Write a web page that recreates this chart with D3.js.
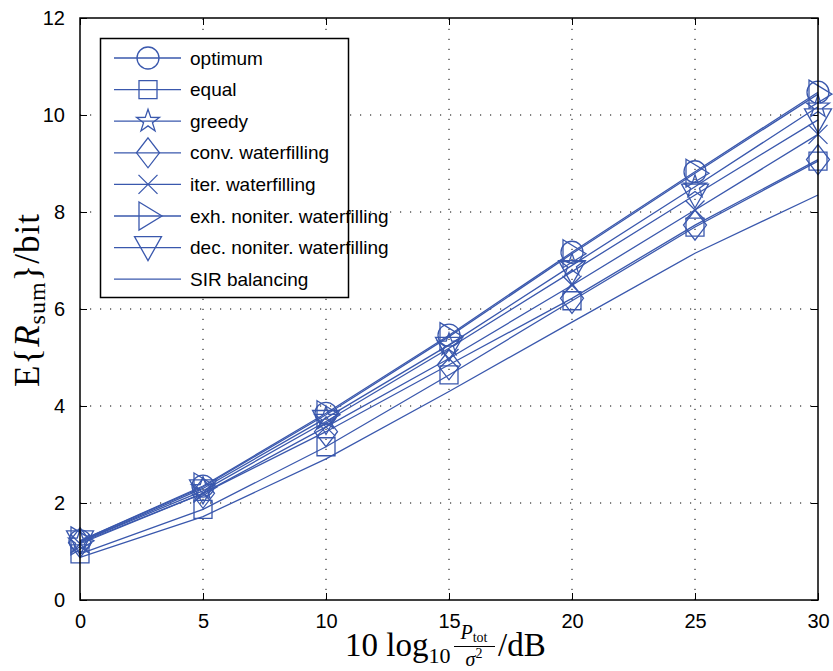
<!DOCTYPE html>
<html><head><meta charset="utf-8">
<script src="https://cdn.jsdelivr.net/npm/d3@7/dist/d3.min.js"></script>
<style>body{margin:0;background:#fff}svg{display:block}</style>
</head><body>
<svg id="chart" width="833" height="671"></svg>
<script>
const xValues = [0, 5, 10, 15, 20, 25, 30];
const optimum = [1.22, 2.35, 3.85, 5.46, 7.17, 8.83, 10.47];
const equalPow = [0.95, 1.87, 3.16, 4.64, 6.17, 7.69, 9.05];
const greedy = [1.20, 2.30, 3.75, 5.26, 6.90, 8.52, 10.17];
const convWF = [1.18, 2.20, 3.47, 4.85, 6.22, 7.73, 9.08];
const iterWF = [1.16, 2.20, 3.57, 4.98, 6.49, 8.04, 9.60];
const exhWF = [1.22, 2.33, 3.82, 5.43, 7.14, 8.80, 10.43];
const decWF = [1.20, 2.25, 3.68, 5.19, 6.77, 8.35, 9.90];
const sirBal = [0.88, 1.72, 2.91, 4.30, 5.73, 7.15, 8.35];
const seriesNames = ["optimum", "equal", "greedy", "conv. waterfilling", "iter. waterfilling", "exh. noniter. waterfilling", "dec. noniter. waterfilling", "SIR balancing"];
const seriesValues = [optimum, equalPow, greedy, convWF, iterWF, exhWF, decWF, sirBal];
const seriesMarkers = ["circle", "square", "star", "diamond", "x", "tright", "tdown", "none"];
const xTicks = [0, 5, 10, 15, 20, 25, 30];
const yTicks = [0, 2, 4, 6, 8, 10, 12];

const color = "#3a58ad";
const svg = d3.select("#chart");
const L = 80, R = 818, T = 18, B = 600;
const x = d3.scaleLinear().domain([0, 30]).range([L, R]);
const y = d3.scaleLinear().domain([0, 12]).range([B, T]);

function starPath(Ro) {
  const ri = Ro * 0.39; let p = "";
  for (let i = 0; i < 10; i++) {
    const r = i % 2 ? ri : Ro; const a = -Math.PI / 2 + i * Math.PI / 5;
    p += (i ? "L" : "M") + (r * Math.cos(a)).toFixed(2) + "," + (r * Math.sin(a)).toFixed(2);
  }
  return p + "Z";
}
const markerPaths = {
  circle: "M11,0A11,11 0 1,1 -11,0A11,11 0 1,1 11,0Z",
  square: "M-9,-9H9V9H-9Z",
  star: starPath(12),
  diamond: "M0,-15L11.5,0L0,15L-11.5,0Z",
  x: "M-9.5,-9.5L9.5,9.5M-9.5,9.5L9.5,-9.5",
  tright: "M-9,-14L14,0L-9,14Z",
  tdown: "M-13.5,-11L13.5,-11L0,13Z",
  none: ""
};

// grid
const grid = svg.append("g").attr("stroke", "#000").attr("stroke-width", 1).attr("stroke-dasharray", "1.2,8.8");
xTicks.slice(1, -1).forEach(t => grid.append("line").attr("x1", x(t)).attr("x2", x(t)).attr("y1", B).attr("y2", T));
yTicks.slice(1, -1).forEach(t => grid.append("line").attr("x1", L).attr("x2", R).attr("y1", y(t)).attr("y2", y(t)));

// axes with inward ticks
const axB = d3.axisBottom(x).tickValues(xTicks).tickSize(-7).tickPadding(14).tickFormat(d3.format("d"));
const axL = d3.axisLeft(y).tickValues(yTicks).tickSize(-7).tickPadding(15).tickFormat(d3.format("d"));
const axT = d3.axisTop(x).tickValues(xTicks).tickSize(-7).tickFormat("");
const axR = d3.axisRight(y).tickValues(yTicks).tickSize(-7).tickFormat("");
function styleAxis(g) {
  g.select(".domain").remove();
  g.selectAll(".tick line").attr("stroke", "#000").attr("stroke-width", 1);
  g.selectAll(".tick text").attr("fill", "#000").attr("font-family", "Liberation Sans, Arial, sans-serif").attr("font-size", 20);
}
svg.append("g").attr("transform", `translate(0,${B})`).call(axB).call(styleAxis);
svg.append("g").attr("transform", `translate(${L},0)`).call(axL).call(styleAxis);
svg.append("g").attr("transform", `translate(0,${T})`).call(axT).call(styleAxis);
svg.append("g").attr("transform", `translate(${R},0)`).call(axR).call(styleAxis);

// series
const line = d3.line().x((d, i) => x(xValues[i])).y(d => y(d));
const plot = svg.append("g");
seriesValues.forEach((vals, k) => {
  plot.append("path").attr("d", line(vals)).attr("fill", "none").attr("stroke", color).attr("stroke-width", 1.3);
  if (seriesMarkers[k] !== "none") {
    plot.selectAll(null).data(vals).enter().append("path")
      .attr("d", markerPaths[seriesMarkers[k]])
      .attr("transform", (d, i) => `translate(${x(xValues[i])},${y(d)})`)
      .attr("fill", "none").attr("stroke", color).attr("stroke-width", 1.3);
  }
});

// box
svg.append("rect").attr("x", L).attr("y", T).attr("width", R - L).attr("height", B - T)
  .attr("fill", "none").attr("stroke", "#000").attr("stroke-width", 1.5);

// legend
const lg = svg.append("g");
lg.append("rect").attr("x", 100.5).attr("y", 38.5).attr("width", 248).attr("height", 259)
  .attr("fill", "#fff").attr("stroke", "#000").attr("stroke-width", 1.5);
seriesNames.forEach((name, k) => {
  const yy = 58 + k * 31.6;
  lg.append("line").attr("x1", 114).attr("x2", 181).attr("y1", yy).attr("y2", yy).attr("stroke", color).attr("stroke-width", 1.3);
  if (seriesMarkers[k] !== "none")
    lg.append("path").attr("d", markerPaths[seriesMarkers[k]]).attr("transform", `translate(148,${yy})`)
      .attr("fill", "none").attr("stroke", color).attr("stroke-width", 1.3);
  lg.append("text").attr("x", 190).attr("y", yy).attr("dy", "0.35em").text(name)
    .attr("font-family", "Liberation Sans, Arial, sans-serif").attr("font-size", 19).attr("fill", "#000");
});

// y label
const serif = "Liberation Serif, DejaVu Serif, serif";
const yl = svg.append("text").attr("transform", "translate(39,300) rotate(-90)").attr("text-anchor", "middle")
  .attr("font-family", serif).attr("font-size", 35).attr("letter-spacing", 1).attr("fill", "#000");
yl.append("tspan").text("E{");
yl.append("tspan").attr("font-style", "italic").text("R");
yl.append("tspan").attr("font-size", 24).attr("dy", 6).text("sum");
yl.append("tspan").attr("dy", -6).text("}/bit");

// x label
const xl = svg.append("g").attr("font-family", serif).attr("fill", "#000");
const t1 = xl.append("text").attr("x", 345).attr("y", 656).attr("font-size", 33);
t1.append("tspan").text("10 log");
t1.append("tspan").attr("font-size", 22).attr("dy", 7).text("10");
const n = xl.append("text").attr("x", 474).attr("y", 639).attr("text-anchor", "middle").attr("font-size", 20);
n.append("tspan").attr("font-style", "italic").text("P");
n.append("tspan").attr("font-size", 14).attr("dy", 3).text("tot");
xl.append("line").attr("x1", 454).attr("x2", 495).attr("y1", 646.5).attr("y2", 646.5).attr("stroke", "#000").attr("stroke-width", 1);
const dn = xl.append("text").attr("x", 474).attr("y", 666).attr("text-anchor", "middle").attr("font-size", 20);
dn.append("tspan").attr("font-style", "italic").text("σ");
dn.append("tspan").attr("font-size", 14).attr("dy", -8).text("2");
xl.append("text").attr("x", 498).attr("y", 656).attr("font-size", 33).text("/dB");
</script>
</body></html>
